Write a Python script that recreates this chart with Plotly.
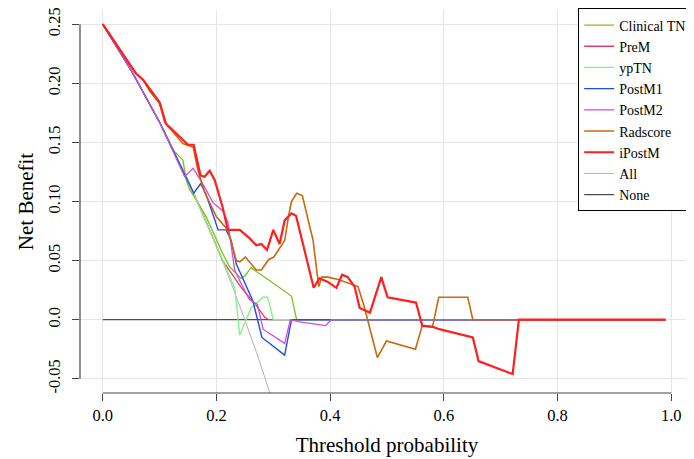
import plotly.graph_objects as go

# ---------------- data ----------------
all_x = [0, 0.025, 0.05, 0.075, 0.10, 0.125, 0.15, 0.175, 0.20, 0.225, 0.25, 0.275, 0.30]
all_y = [0.25, 0.231, 0.211, 0.189, 0.167, 0.143, 0.118, 0.091, 0.0625, 0.032, 0.0, -0.034, -0.071]

none_x = [0, 0.99]
none_y = [0.0, 0.0]

ctn_x = [0, 0.05, 0.10, 0.125, 0.135, 0.141, 0.147, 0.153, 0.165, 0.182, 0.211, 0.223, 0.243,
         0.250, 0.261, 0.332, 0.341, 0.99]
ctn_y = [0.25, 0.211, 0.167, 0.143, 0.138, 0.135, 0.118, 0.110, 0.101, 0.087, 0.056, 0.045, 0.035,
         0.037, 0.044, 0.020, 0.0, 0.0]

prem_x = [0, 0.05, 0.10, 0.15, 0.20, 0.211, 0.244, 0.270, 0.285, 0.292, 0.99]
prem_y = [0.25, 0.211, 0.167, 0.118, 0.0625, 0.050, 0.027, 0.012, 0.002, 0.0, 0.0]

yptn_x = [0, 0.05, 0.10, 0.15, 0.20, 0.232, 0.241, 0.261, 0.282, 0.290, 0.300, 0.99]
yptn_y = [0.25, 0.211, 0.167, 0.118, 0.0625, 0.027, -0.013, 0.010, 0.019, 0.019, 0.0, 0.0]

pm1_x = [0, 0.05, 0.10, 0.15, 0.160, 0.172, 0.181, 0.191, 0.203, 0.217, 0.226, 0.235, 0.250,
         0.264, 0.280, 0.320, 0.332, 0.99]
pm1_y = [0.25, 0.211, 0.167, 0.117, 0.107, 0.115, 0.107, 0.093, 0.076, 0.076, 0.067, 0.047, 0.031,
         0.016, -0.015, -0.030, 0.0, 0.0]

pm2_x = [0, 0.05, 0.10, 0.144, 0.159, 0.177, 0.194, 0.211, 0.220, 0.232, 0.244, 0.258, 0.272,
         0.282, 0.320, 0.330, 0.349, 0.384, 0.392, 0.402, 0.99]
pm2_y = [0.25, 0.211, 0.167, 0.121, 0.128, 0.114, 0.099, 0.092, 0.083, 0.042, 0.030, 0.017, 0.013,
         -0.008, -0.020, 0.0, -0.002, -0.004, -0.005, 0.0, 0.0]

rad_x = [0, 0.011, 0.035, 0.059, 0.071, 0.083, 0.100, 0.109, 0.141, 0.159, 0.167, 0.179, 0.200,
         0.211, 0.220, 0.235, 0.241, 0.251, 0.261, 0.270, 0.279, 0.292, 0.301, 0.311, 0.320,
         0.327, 0.332, 0.341, 0.351, 0.370, 0.380, 0.385, 0.396, 0.414, 0.449, 0.460, 0.483,
         0.499, 0.550, 0.562, 0.580, 0.591, 0.642, 0.651, 0.99]
rad_y = [0.25, 0.242, 0.225, 0.208, 0.203, 0.193, 0.183, 0.167, 0.149, 0.146, 0.127, 0.108, 0.087,
         0.081, 0.076, 0.050, 0.049, 0.053, 0.047, 0.042, 0.042, 0.051, 0.053, 0.061, 0.067,
         0.088, 0.100, 0.107, 0.105, 0.067, 0.028, 0.036, 0.036, 0.034, 0.028, 0.011, -0.032,
         -0.018, -0.025, -0.005, -0.006, 0.019, 0.019, 0.0, 0.0]

ip_x = [0, 0.011, 0.035, 0.059, 0.071, 0.083, 0.100, 0.111, 0.124, 0.141, 0.150, 0.160, 0.165,
        0.172, 0.179, 0.188, 0.197, 0.211, 0.220, 0.241, 0.258, 0.270, 0.279, 0.289, 0.300,
        0.311, 0.320, 0.332, 0.340, 0.371, 0.381, 0.396, 0.411, 0.421, 0.431, 0.443, 0.452,
        0.470, 0.490, 0.501, 0.551, 0.562, 0.580, 0.592, 0.651, 0.661, 0.721, 0.732, 0.99]
ip_y = [0.25, 0.242, 0.225, 0.208, 0.203, 0.195, 0.184, 0.166, 0.160, 0.153, 0.148, 0.148, 0.138,
        0.122, 0.121, 0.126, 0.118, 0.095, 0.076, 0.076, 0.069, 0.063, 0.064, 0.059, 0.076,
        0.064, 0.084, 0.090, 0.088, 0.027, 0.035, 0.032, 0.027, 0.038, 0.036, 0.028, 0.010,
        0.006, 0.036, 0.019, 0.0145, -0.005, -0.006, -0.008, -0.015, -0.035, -0.046, 0.0, 0.0]

x_ticks = [0.0, 0.2, 0.4, 0.6, 0.8, 1.0]
x_ticklabels = ["0.0", "0.2", "0.4", "0.6", "0.8", "1.0"]
y_ticks = [-0.05, 0.0, 0.05, 0.10, 0.15, 0.20, 0.25]
y_ticklabels = ["-0.05", "0.0", "0.05", "0.10", "0.15", "0.20", "0.25"]

# ---------------- styling ----------------
FONT = "Liberation Serif, Times New Roman, serif"

series = [
    # name, x, y, color, width, legendrank
    ("None", none_x, none_y, "#4d4d4d", 1.3, 9),
    ("All", all_x, all_y, "#b3b3b3", 1.0, 8),
    ("Clinical TN", ctn_x, ctn_y, "#7cc21e", 1.3, 1),
    ("PreM", prem_x, prem_y, "#e23d6d", 1.3, 2),
    ("ypTN", yptn_x, yptn_y, "#7df57d", 1.3, 3),
    ("PostM1", pm1_x, pm1_y, "#1f4fe0", 1.4, 4),
    ("PostM2", pm2_x, pm2_y, "#d24ad8", 1.3, 5),
    ("Radscore", rad_x, rad_y, "#c8690e", 1.6, 6),
    ("iPostM", ip_x, ip_y, "#ff1f1f", 2.2, 7),
]

fig = go.Figure()
for name, xs, ys, col, w, rank in series:
    fig.add_trace(go.Scatter(
        x=xs, y=ys, mode="lines", name=name,
        line=dict(color=col, width=w),
        legendrank=rank, cliponaxis=True,
    ))

# the page body keeps an 8px margin, so the figure is sized to fit the rest of the window
fig.update_layout(
    width=686, height=451,
    margin=dict(l=72, r=0, t=2, b=66, autoexpand=False),
    paper_bgcolor="white", plot_bgcolor="white",
    font=dict(family=FONT, size=16, color="black"),
    showlegend=True,
    legend=dict(
        x=0.997, y=1.004, xanchor="right", yanchor="top",
        bgcolor="white", bordercolor="black", borderwidth=1,
        font=dict(family=FONT, size=14, color="black"),
        itemwidth=30, tracegroupgap=0,
    ),
    xaxis=dict(
        range=[-0.04, 1.04], showgrid=True, gridcolor="#e6e6e6", gridwidth=1,
        zeroline=False, showline=False,
        tickmode="array", tickvals=x_ticks, ticktext=x_ticklabels,
        ticks="outside", ticklen=7, tickcolor="#444", tickwidth=1,
        tickfont=dict(family=FONT, size=16.5),
        ticklabelstandoff=0,
        title=dict(text="Threshold probability", font=dict(family=FONT, size=21), standoff=13),
        automargin=False,
    ),
    yaxis=dict(
        range=[-0.062, 0.262], showgrid=True, gridcolor="#e6e6e6", gridwidth=1,
        zeroline=False, showline=False,
        tickmode="array", tickvals=y_ticks, ticktext=y_ticklabels,
        ticks="outside", ticklen=7, tickcolor="#444", tickwidth=1,
        tickangle=-90, ticklabeloverflow="allow",
        tickfont=dict(family=FONT, size=16.5),
        ticklabelstandoff=5,
        title=dict(text="Net Benefit", font=dict(family=FONT, size=21), standoff=6),
        automargin=False,
    ),
)

# R-style axis lines spanning only the tick range
fig.add_shape(type="line", xref="x", yref="paper", x0=x_ticks[0], x1=x_ticks[-1], y0=0, y1=0,
              line=dict(color="#444", width=1.2))
fig.add_shape(type="line", xref="paper", yref="y", x0=0, x1=0, y0=y_ticks[0], y1=y_ticks[-1],
              line=dict(color="#444", width=1.2))

fig.write_html("out.html")
